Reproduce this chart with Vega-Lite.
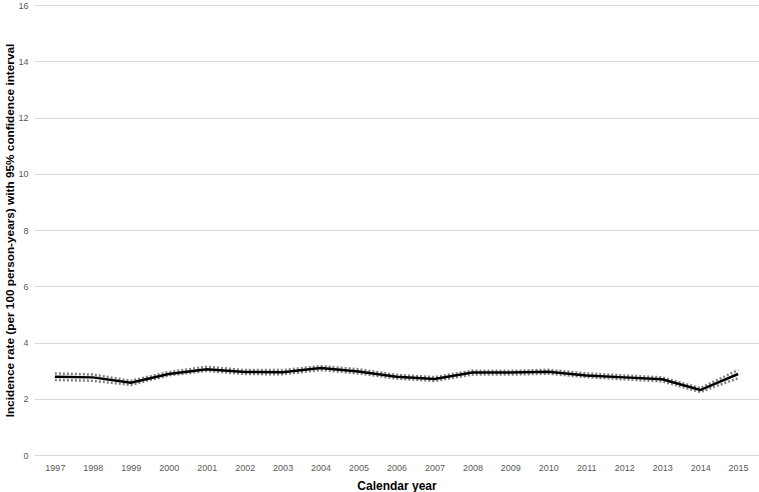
{
  "$schema": "https://vega.github.io/schema/vega-lite/v6.json",
  "autosize": "none",
  "width": 725,
  "height": 450,
  "padding": {"left": 34, "top": 5, "right": 0, "bottom": 37},
  "background": "white",
  "config": {"view": {"stroke": null}, "font": "Liberation Sans"},
  "data": {"values": [
    {"year": "1997", "rate": 2.78, "lower": 2.67, "upper": 2.90},
    {"year": "1998", "rate": 2.76, "lower": 2.64, "upper": 2.86},
    {"year": "1999", "rate": 2.57, "lower": 2.49, "upper": 2.64},
    {"year": "2000", "rate": 2.88, "lower": 2.83, "upper": 2.95},
    {"year": "2001", "rate": 3.05, "lower": 2.99, "upper": 3.14},
    {"year": "2002", "rate": 2.95, "lower": 2.88, "upper": 3.02},
    {"year": "2003", "rate": 2.94, "lower": 2.87, "upper": 3.02},
    {"year": "2004", "rate": 3.09, "lower": 3.02, "upper": 3.16},
    {"year": "2005", "rate": 2.97, "lower": 2.90, "upper": 3.05},
    {"year": "2006", "rate": 2.78, "lower": 2.72, "upper": 2.85},
    {"year": "2007", "rate": 2.70, "lower": 2.63, "upper": 2.77},
    {"year": "2008", "rate": 2.93, "lower": 2.86, "upper": 3.00},
    {"year": "2009", "rate": 2.93, "lower": 2.86, "upper": 2.99},
    {"year": "2010", "rate": 2.96, "lower": 2.89, "upper": 3.03},
    {"year": "2011", "rate": 2.83, "lower": 2.77, "upper": 2.90},
    {"year": "2012", "rate": 2.76, "lower": 2.69, "upper": 2.83},
    {"year": "2013", "rate": 2.69, "lower": 2.62, "upper": 2.76},
    {"year": "2014", "rate": 2.31, "lower": 2.24, "upper": 2.38},
    {"year": "2015", "rate": 2.88, "lower": 2.73, "upper": 3.02}
  ]},
  "encoding": {
    "x": {
      "field": "year", "type": "ordinal",
      "scale": {"type": "point", "padding": 0.55},
      "axis": {
        "title": "Calendar year", "titleFontSize": 12, "titleFontWeight": "bold", "titleColor": "#000000", "titlePadding": 8,
        "labelAngle": 0, "labelFontSize": 9, "labelColor": "#595959", "labelPadding": 8,
        "ticks": false, "domain": false, "grid": false
      }
    }
  },
  "layer": [
    {
      "mark": {"type": "line", "color": "#808080", "strokeWidth": 2.5, "strokeDash": [2, 2]},
      "encoding": {
        "y": {
          "field": "upper", "type": "quantitative",
          "scale": {"domain": [0, 16]},
          "axis": {
            "title": "Incidence rate (per 100 person-years) with 95% confidence interval",
            "titleFontSize": 11.8, "titleFontWeight": "bold", "titleColor": "#000000", "titlePadding": 2,
            "values": [0, 2, 4, 6, 8, 10, 12, 14, 16],
            "labelFontSize": 9, "labelColor": "#595959", "labelPadding": 6,
            "ticks": false, "domain": false, "gridColor": "#d9d9d9", "gridWidth": 1
          }
        }
      }
    },
    {
      "mark": {"type": "line", "color": "#808080", "strokeWidth": 2.5, "strokeDash": [2, 2]},
      "encoding": {"y": {"field": "lower", "type": "quantitative"}}
    },
    {
      "mark": {"type": "line", "color": "#000000", "strokeWidth": 2.5},
      "encoding": {"y": {"field": "rate", "type": "quantitative"}}
    }
  ]
}
